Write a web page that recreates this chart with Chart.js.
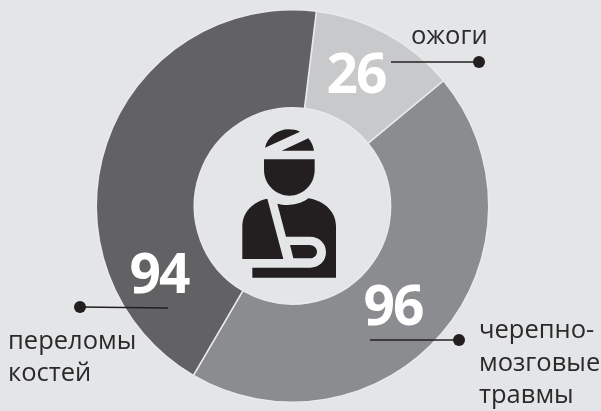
<!DOCTYPE html>
<html>
<head>
<meta charset="utf-8">
<style>
  html, body { margin: 0; padding: 0; background: #e4e5e7; overflow: hidden; }
  canvas { display: block; }
</style>
<script src="https://cdn.jsdelivr.net/npm/chart.js@4/dist/chart.umd.js"></script>
</head>
<body>
<canvas id="chart" width="601" height="411"></canvas>
<script>
const categories = [['ожоги'], ['черепно-', 'мозговые', 'травмы'], ['переломы', 'костей']];
const values = [26, 96, 94];
const sliceColors = ['#c8c9ca', '#8b8c8f', '#626264'];
const valueAnchors = [[356, 93], [393, 325], [159, 293]];
const labelAnchors = [[411, 44], [479, 338], [8, 348.5]];
const leaders = [[391, 62, 479, 62], [370, 340, 459, 340], [168, 308, 80, 307]];

// icon, coordinates are 3x with origin at (190,100)
const bandage = 'M225 143 C232 112 262 88 296 88 C308 88 320 90 330 95 Z ' +
    'M275 152 L355 115 C364 126 370 138 372 152 Z';
const head = 'M222 178 L374 178 L374 210 C374 252 340 287 298 287 C256 287 222 252 222 210 Z';
const bodyLeft = 'M232 296 C190 304 157 336 157 378 L157 477 L280 477 Z';
const bodyRight = 'M262 311 C290 318 328 316 355 295 C402 302 438 335 438 378 L438 533 L187 533 L187 503 ' +
    'L360 503 C388 503 408 483 408 456 C408 430 388 410 360 410 L288 410 Z ' +
    'M300 435 L358 435 C372 435 381 444 381 455 C381 466 372 475 358 475 L310 475 Z';

const overlay = {
    id: 'overlay',
    afterDraw(chart) {
        const ctx = chart.ctx;
        ctx.save();

        // icon
        ctx.save();
        ctx.translate(190, 100);
        ctx.scale(1 / 3, 1 / 3);
        ctx.fillStyle = '#231f20';
        ctx.fill(new Path2D(bandage));
        ctx.fill(new Path2D(head));
        ctx.fill(new Path2D(bodyLeft));
        ctx.fill(new Path2D(bodyRight), 'evenodd');
        ctx.restore();

        // big numbers
        ctx.fillStyle = '#ffffff';
        ctx.font = 'bold 55px "Open Sans"';
        ctx.letterSpacing = '-2px';
        ctx.textAlign = 'center';
        ctx.textBaseline = 'alphabetic';
        values.forEach((v, i) => {
            ctx.fillText(String(v), valueAnchors[i][0], valueAnchors[i][1]);
        });
        ctx.letterSpacing = '0px';

        // leader lines
        ctx.strokeStyle = '#231f20';
        ctx.fillStyle = '#231f20';
        ctx.lineWidth = 1.5;
        leaders.forEach(l => {
            ctx.beginPath();
            ctx.moveTo(l[0], l[1]);
            ctx.lineTo(l[2], l[3]);
            ctx.stroke();
            ctx.beginPath();
            ctx.arc(l[2], l[3], 6, 0, Math.PI * 2);
            ctx.fill();
        });

        // category labels
        ctx.font = '25.5px "Open Sans"';
        ctx.textAlign = 'left';
        ctx.fillStyle = '#2b2a2b';
        categories.forEach((lines, i) => {
            lines.forEach((line, j) => {
                ctx.fillText(line, labelAnchors[i][0], labelAnchors[i][1] + j * 32.5);
            });
        });
        ctx.restore();
    }
};

new Chart(document.getElementById('chart').getContext('2d'), {
    type: 'doughnut',
    data: {
        labels: categories.map(c => c.join(' ')),
        datasets: [{
            data: values,
            backgroundColor: sliceColors,
            borderColor: '#e9eaeb',
            borderWidth: 1.5
        }]
    },
    options: {
        responsive: false,
        animation: false,
        rotation: 7,
        cutout: '50%',
        layout: { padding: { left: 95.5, right: 111.5, top: 8.5, bottom: 7.5 } },
        plugins: {
            legend: { display: false },
            tooltip: { enabled: false }
        }
    },
    plugins: [overlay]
});
</script>
</body>
</html>
